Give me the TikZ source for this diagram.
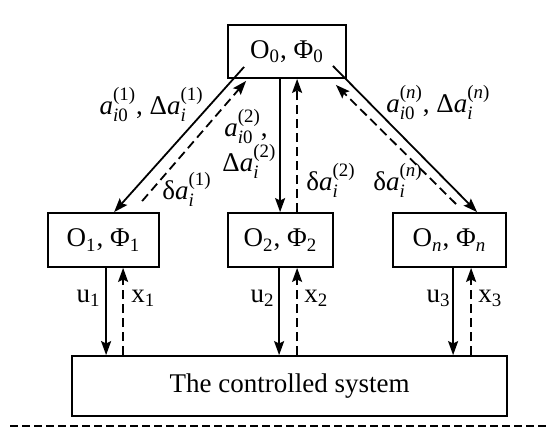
\documentclass[tikz,border=0pt]{standalone}
\usepackage{amsmath}
\usepackage{fontspec}
\setmainfont{Liberation Serif}
\usetikzlibrary{arrows.meta,calc}
\newcommand{\tsb}[1]{$_{\text{#1}}$}
\newcommand{\ita}{\text{\itshape a}}
\begin{document}
\begin{tikzpicture}[x=0.5pt,y=-0.5pt,
  font=\fontsize{13.5}{16}\selectfont,
  box/.style={draw,line width=0.9pt,inner sep=0pt},
  sol/.style={line width=0.9pt,-{Stealth[length=7pt,width=5pt,inset=1.2pt]}},
  dsh/.style={sol,dash pattern=on 4.5pt off 2.5pt},
  lab/.style={inner sep=0pt}]
\useasboundingbox (0,0) rectangle (549,429);
% boxes
\node[box,minimum width=59pt,minimum height=26.5pt] (O0) at (287,51.5) {O\tsb{0}, Φ\tsb{0}};
\node[box,minimum width=55.5pt,minimum height=27pt] (O1) at (103.5,240) {O\tsb{1}, Φ\tsb{1}};
\node[box,minimum width=52.5pt,minimum height=27pt] (O2) at (280.5,240) {O\tsb{2}, Φ\tsb{2}};
\node[box,minimum width=56.5pt,minimum height=27pt] (On) at (449.5,240) {O\tsb{\itshape n}, Φ\tsb{\itshape n}};
\node[box,minimum width=217.5pt,minimum height=30pt] (S) at (289.5,386) {The controlled system};
% top connectors
\draw[sol] ($(O0.south west)+(17,-12)$) -- ($(O1.north west)+(67,0)$);
\draw[dsh] ($(O1.north west)+(95,-11)$) -- ($(O0.south west)+(19,2)$);
\draw[sol] ($(O0.south west)+(53,0)$) -- ($(O2.north west)+(53,0)$);
\draw[dsh] ($(O2.north west)+(70,0)$) -- ($(O0.south west)+(70,0)$);
\draw[sol] ($(O0.south east)+(-14,-13)$) -- ($(On.north west)+(85,0)$);
\draw[dsh] ($(On.north west)+(64,-8)$) -- ($(O0.south east)+(-11,6)$);
% bottom connectors
\draw[sol] ($(O1.south west)+(59,0)$) -- ($(S.north west)+(35,0)$);
\draw[dsh] ($(S.north west)+(52,0)$) -- ($(O1.south west)+(76,0)$);
\draw[sol] ($(O2.south west)+(52,0)$) -- ($(S.north west)+(208,0)$);
\draw[dsh] ($(S.north west)+(226,0)$) -- ($(O2.south west)+(70,0)$);
\draw[sol] ($(On.south west)+(61,0)$) -- ($(S.north west)+(382,0)$);
\draw[dsh] ($(S.north west)+(400,0)$) -- ($(On.south west)+(79,0)$);
% labels
\node[lab,anchor=base east] (L1) at (204,114) {$\ita_{\text{\itshape i\upshape 0}}^{\text{(1)}}$, Δ$\ita_{\text{\itshape i}}^{\text{(1)}}$};
\node[lab,anchor=base west] (L2a) at (224,136) {$\ita_{\text{\itshape i\upshape 0}}^{\text{(2)}}$,};
\node[lab,anchor=base west] (L2b) at (222,171) {Δ$\ita_{\text{\itshape i}}^{\text{(2)}}$};
\node[lab,anchor=base west] (L6) at (386,112) {$\ita_{\text{\itshape i\upshape 0}}^{\text{(\itshape n\upshape)}}$, Δ$\ita_{\text{\itshape i}}^{\text{(\itshape n\upshape)}}$};
\node[lab,anchor=base west] (L3) at (162,199) {δ$\ita_{\text{\itshape i}}^{\text{(1)}}$};
\node[lab,anchor=base west] (L4) at (306,190) {δ$\ita_{\text{\itshape i}}^{\text{(2)}}$};
\node[lab,anchor=base west] (L5) at (373,190) {δ$\ita_{\text{\itshape i}}^{\text{(\itshape n\upshape)}}$};
\node[lab,anchor=base east] (u1) at (101,302) {u\tsb{1}};
\node[lab,anchor=base west] (x1) at (131,302) {x\tsb{1}};
\node[lab,anchor=base east] (u2) at (275,302) {u\tsb{2}};
\node[lab,anchor=base west] (x2) at (304,302) {x\tsb{2}};
\node[lab,anchor=base east] (u3) at (451,302) {u\tsb{3}};
\node[lab,anchor=base west] (x3) at (478,302) {x\tsb{3}};
% bottom dashed separator
\coordinate (dl) at (10,426);
\coordinate (dr) at (549,426);
\draw[line width=0.9pt,dash pattern=on 4pt off 2pt] (dl) -- (dr);
\end{tikzpicture}
\end{document}
